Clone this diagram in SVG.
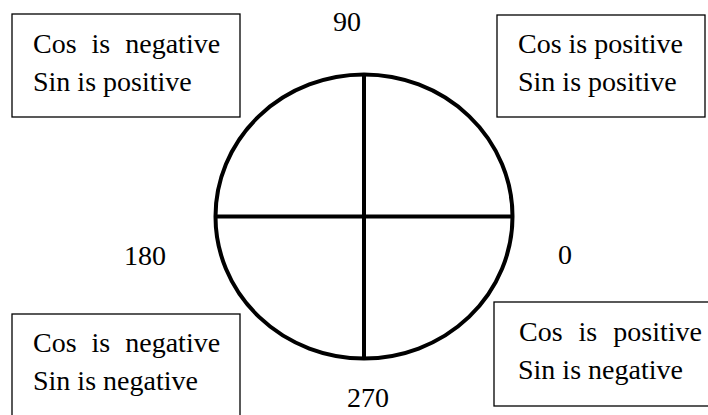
<svg xmlns="http://www.w3.org/2000/svg" width="708" height="415" viewBox="0 0 708 415">
<style>
.box{fill:#fff;stroke:#000;stroke-width:1.3}
.t{font-family:"Liberation Serif","Times New Roman",serif;font-size:28px;fill:#000}
.ax{fill:none;stroke:#000;stroke-width:4}
</style>
<rect width="708" height="415" fill="#fff"/>
<g id="circle">
<ellipse class="ax" cx="364" cy="216.5" rx="148.5" ry="142"/>
</g>
<g id="axes">
<line class="ax" x1="364" y1="74.5" x2="364" y2="358.5"/>
<line class="ax" x1="215.5" y1="216.5" x2="512.5" y2="216.5"/>
</g>
<g id="q2">
<rect class="box" x="12" y="14" width="228" height="103"/>
<text class="t" x="33" y="53" word-spacing="8">Cos is negative</text>
<text class="t" x="33" y="91">Sin is positive</text>
</g>
<g id="q1">
<rect class="box" x="497" y="15" width="208" height="102"/>
<text class="t" x="518" y="53">Cos is positive</text>
<text class="t" x="518" y="91">Sin is positive</text>
</g>
<g id="q3">
<rect class="box" x="12" y="314" width="228" height="110"/>
<text class="t" x="33" y="352" word-spacing="8">Cos is negative</text>
<text class="t" x="33" y="390">Sin is negative</text>
</g>
<g id="q4">
<rect class="box" x="494" y="302" width="220" height="104"/>
<text class="t" x="519" y="341" word-spacing="9">Cos is positive</text>
<text class="t" x="518" y="379">Sin is negative</text>
</g>
<g id="labels">
<text class="t" x="333" y="31">90</text>
<text class="t" x="124" y="265">180</text>
<text class="t" x="558" y="264">0</text>
<text class="t" x="347" y="407">270</text>
</g>
</svg>
